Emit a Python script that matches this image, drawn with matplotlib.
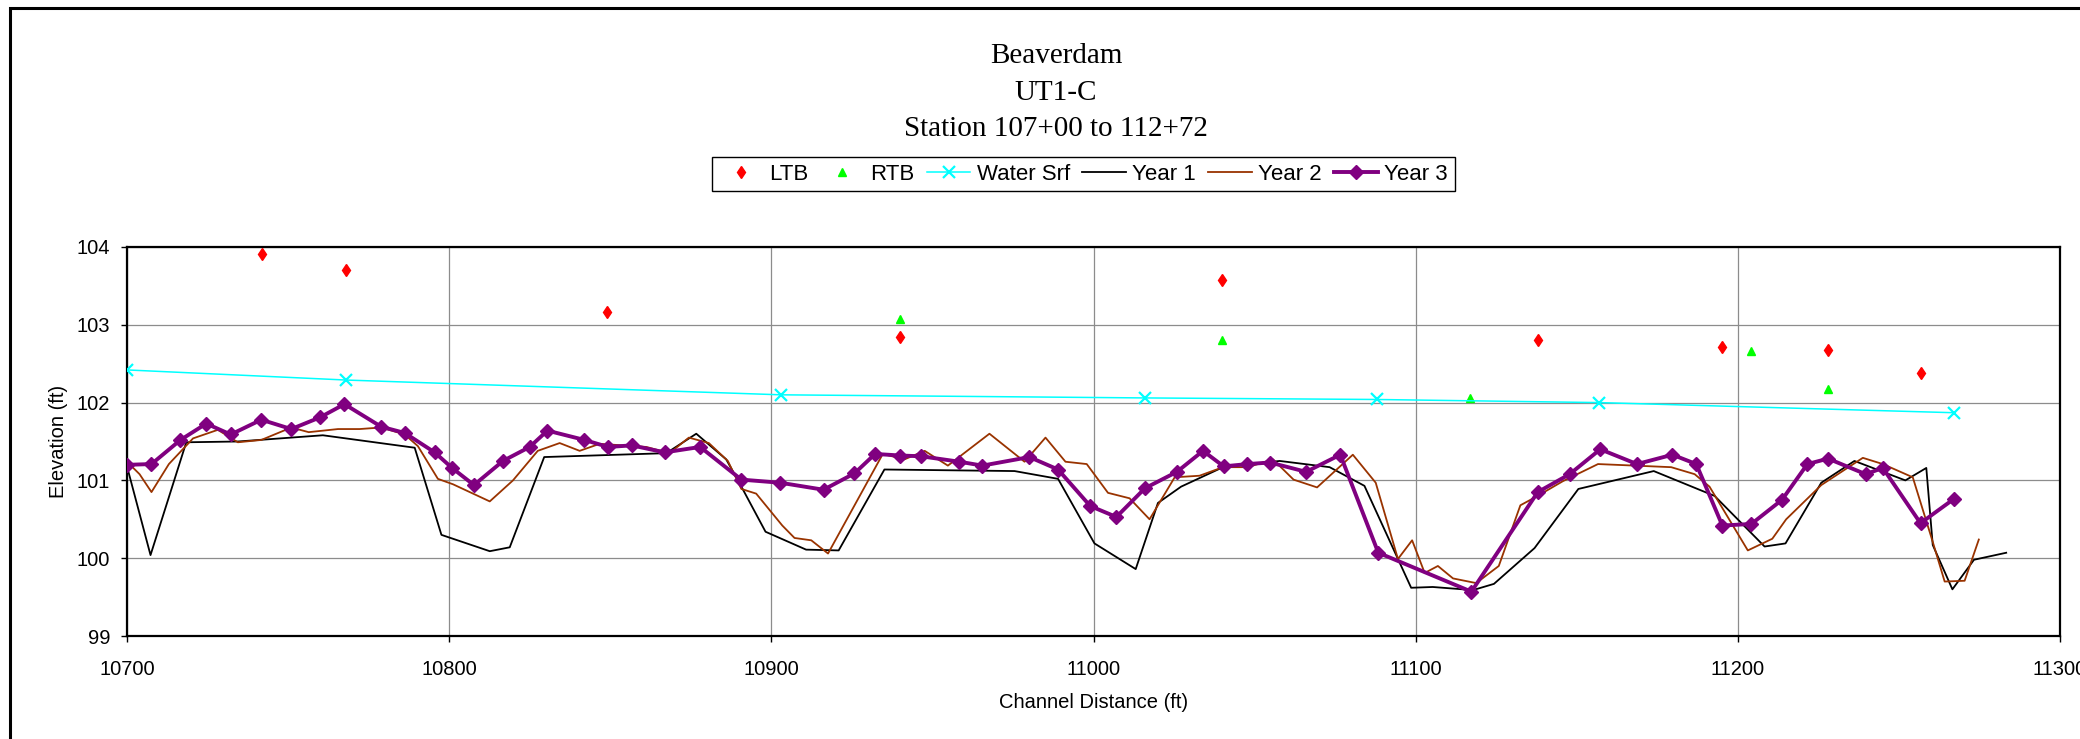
import matplotlib
matplotlib.use("Agg")
import matplotlib.pyplot as plt
from matplotlib.patches import Rectangle

# ---------------- data ----------------
ltb_x = [10742, 10768, 10849, 10940, 11040, 11138, 11195, 11228, 11257]
ltb_y = [103.91, 103.70, 103.16, 102.84, 103.58, 102.80, 102.71, 102.68, 102.38]

rtb_x = [10940, 11040, 11117, 11204, 11228]
rtb_y = [103.07, 102.81, 102.06, 102.66, 102.17]

water_x = [10700, 10768, 10903, 11016, 11088, 11157, 11267]
water_y = [102.42, 102.29, 102.10, 102.06, 102.04, 102.00, 101.87]

year1_x = [10700, 10707.3, 10718.4, 10734.4, 10760.8, 10789.3, 10797.6, 10812.6, 10818.8, 10829.5,
           10867.4, 10876.7, 10886.0, 10890.7, 10898.2, 10910.8, 10920.9, 10935.1, 10955.3, 10975.5,
           10989.0, 11000.3, 11013.1, 11020.0, 11027.2, 11040.2, 11057.8, 11073.3, 11084.1, 11098.6,
           11105.3, 11117.8, 11124.3, 11136.9, 11150.5, 11173.9, 11192.8, 11208.3, 11214.8, 11225.9,
           11236.2, 11252.0, 11258.5, 11260.5, 11266.6, 11273.3, 11283.3]
year1_y = [101.18, 100.04, 101.49, 101.50, 101.58, 101.42, 100.30, 100.09, 100.14, 101.30,
           101.35, 101.60, 101.27, 100.92, 100.34, 100.11, 100.10, 101.14, 101.13, 101.12,
           101.02, 100.19, 99.86, 100.71, 100.92, 101.17, 101.25, 101.17, 100.93, 99.62,
           99.63, 99.59, 99.67, 100.13, 100.89, 101.12, 100.80, 100.15, 100.19, 100.97,
           101.25, 101.00, 101.16, 100.17, 99.60, 99.98, 100.07]

year2_x = [10700, 10703.9, 10707.6, 10713.0, 10720.5, 10728.2, 10734.4, 10741.7, 10751.0, 10756.4,
           10765.5, 10772.2, 10778.9, 10786.2, 10790.3, 10796.5, 10801.2, 10812.6, 10819.8, 10827.5,
           10834.3, 10840.5, 10846.7, 10861.2, 10868.4, 10874.4, 10880.6, 10886.5, 10890.7, 10895.3,
           10903.4, 10907.2, 10912.4, 10917.6, 10934.6, 10941.3, 10947.6, 10954.8, 10967.7, 10978.6,
           10985.1, 10991.3, 10997.9, 11004.5, 11011.2, 11017.4, 11025.2, 11032.9, 11040.2, 11047.9,
           11055.7, 11062.1, 11069.4, 11080.5, 11087.6, 11094.5, 11098.9, 11102.8, 11106.9, 11111.6,
           11118.8, 11125.8, 11132.5, 11137.4, 11145.7, 11156.6, 11168.0, 11179.3, 11186.6, 11191.2,
           11203.1, 11210.7, 11215.0, 11225.9, 11238.8, 11245.0, 11254.3, 11260.5, 11264.2, 11270.4,
           11274.8]
year2_y = [101.24, 101.08, 100.85, 101.21, 101.54, 101.65, 101.49, 101.52, 101.68, 101.62,
           101.66, 101.66, 101.68, 101.59, 101.44, 101.02, 100.95, 100.73, 101.00, 101.38,
           101.48, 101.38, 101.47, 101.43, 101.35, 101.55, 101.48, 101.25, 100.89, 100.83,
           100.42, 100.26, 100.23, 100.06, 101.34, 101.27, 101.38, 101.19, 101.60, 101.24,
           101.55, 101.24, 101.21, 100.84, 100.77, 100.50, 101.04, 101.06, 101.17, 101.17,
           101.27, 101.01, 100.91, 101.33, 100.97, 99.99, 100.23, 99.81, 99.90, 99.74,
           99.68, 99.90, 100.68, 100.79, 100.99, 101.21, 101.19, 101.17, 101.08, 100.92,
           100.10, 100.25, 100.50, 100.94, 101.29, 101.21, 101.04, 100.21, 99.70, 99.71,
           100.24]

year3_x = [10700, 10707.6, 10716.6, 10724.6, 10732.2, 10741.7, 10751.0, 10759.9, 10767.5, 10778.9,
           10786.2, 10795.5, 10800.9, 10807.7, 10816.7, 10825.0, 10830.5, 10842.0, 10849.3, 10856.7,
           10866.9, 10877.9, 10890.7, 10902.8, 10916.2, 10925.8, 10932.2, 10940.0, 10946.5, 10958.4,
           10965.5, 10980.1, 10989.0, 10999.0, 11007.1, 11016.0, 11025.9, 11034.0, 11040.4, 11047.8,
           11054.8, 11066.0, 11076.6, 11088.4, 11117.3, 11137.9, 11147.8, 11157.3, 11168.7, 11179.7,
           11187.1, 11195.2, 11204.2, 11213.7, 11221.6, 11228.0, 11239.7, 11245.0, 11256.7, 11267.0]
year3_y = [101.20, 101.21, 101.52, 101.73, 101.59, 101.78, 101.66, 101.81, 101.98, 101.69,
           101.61, 101.36, 101.16, 100.94, 101.25, 101.43, 101.64, 101.52, 101.43, 101.45,
           101.36, 101.43, 101.01, 100.97, 100.88, 101.09, 101.34, 101.32, 101.31, 101.24,
           101.19, 101.30, 101.14, 100.67, 100.53, 100.90, 101.11, 101.38, 101.18, 101.21,
           101.23, 101.11, 101.33, 100.07, 99.57, 100.85, 101.08, 101.40, 101.21, 101.33,
           101.21, 100.42, 100.44, 100.75, 101.21, 101.28, 101.08, 101.16, 100.45, 100.76]

x_ticks = [10700, 10800, 10900, 11000, 11100, 11200, 11300]
y_ticks = [99, 100, 101, 102, 103, 104]
title_lines = ["Beaverdam", "UT1-C", "Station 107+00 to 112+72"]
x_label = "Channel Distance (ft)"
y_label = "Elevation (ft)"

# ---------------- figure ----------------
W, H = 2080, 739
fig = plt.figure(figsize=(W / 100, H / 100), dpi=100)
fig.patch.set_facecolor("white")

SANS = "Liberation Sans"
SERIF = "Liberation Serif"

def fx(px):
    return px / W

def fy(py):
    return 1 - py / H

# outer chart frame (cut off at right and bottom)
fig.patches.append(Rectangle((fx(9.5), -0.2), 1.5, fy(7.5) + 0.2, transform=fig.transFigure,
                             fill=False, edgecolor="black", linewidth=2.2, zorder=0))

ax = fig.add_axes([fx(127), fy(636), fx(2060) - fx(127), fy(247) - fy(636)])

ax.plot(ltb_x, ltb_y, linestyle="none", marker="d", markersize=6, color="#FF0000",
        markeredgecolor="#FF0000", label="LTB", zorder=3)
ax.plot(rtb_x, rtb_y, linestyle="none", marker="^", markersize=6, color="#00FF00",
        markeredgecolor="#00FF00", label="RTB", zorder=3)
ax.plot(water_x, water_y, color="#00FFFF", linewidth=1.1, marker="x", markersize=9,
        markeredgewidth=1.6, label="Water Srf", zorder=3)
ax.plot(year1_x, year1_y, color="black", linewidth=1.3, label="Year 1", zorder=4)
ax.plot(year2_x, year2_y, color="#993300", linewidth=1.3, label="Year 2", zorder=5)
ax.plot(year3_x, year3_y, color="#800080", linewidth=2.8, marker="D", markersize=7,
        label="Year 3", zorder=6)

ax.set_xlim(10700, 11300)
ax.set_ylim(99, 104)
ax.set_xticks(x_ticks)
ax.set_yticks(y_ticks)
ax.set_xticklabels([str(v) for v in x_ticks], fontfamily=SANS, fontsize=14.5)
ax.set_yticklabels([str(v) for v in y_ticks], fontfamily=SANS, fontsize=14.5)
ax.tick_params(axis="y", direction="out", length=4, width=1, pad=8)
ax.tick_params(axis="x", direction="out", length=4, width=1, pad=13)
ax.grid(True, color="#8c8c8c", linewidth=0.9)
ax.set_axisbelow(True)
for s in ax.spines.values():
    s.set_color("black")
    s.set_linewidth(1.6)

# titles
for txt, base in zip(title_lines, [63, 100, 136]):
    fig.text(fx(1056), fy(base), txt, ha="center", va="baseline",
             fontfamily=SERIF, fontsize=21)

# axis labels
fig.text(fx(1094), fy(702), x_label, ha="center", va="center", fontfamily=SANS, fontsize=14.5)
fig.text(fx(58), fy(441), y_label, ha="center", va="center", rotation=90,
         fontfamily=SANS, fontsize=14.5)

leg = fig.legend(loc="center", bbox_to_anchor=(fx(1083.5), fy(174)), ncol=6,
                 prop={"family": SANS, "size": 16}, frameon=True, fancybox=False,
                 handlelength=1.95, handletextpad=0.3, columnspacing=0.55,
                 borderpad=0.3, borderaxespad=0, numpoints=1)
leg.get_frame().set_edgecolor("black")
leg.get_frame().set_linewidth(1.0)
leg.get_frame().set_alpha(1)

fig.savefig("out.png", dpi=100, facecolor="white")
